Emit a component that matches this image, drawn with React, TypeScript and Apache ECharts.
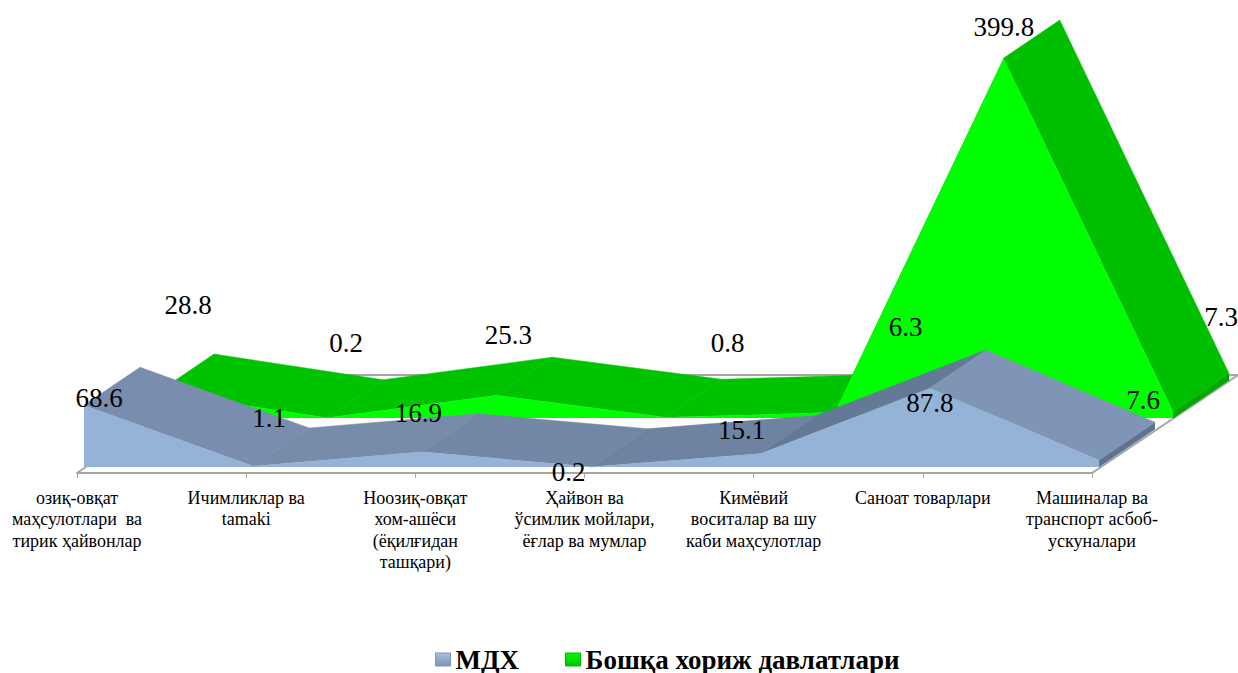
import React, { useEffect, useRef } from "react";
import * as echarts from "echarts";

const categories = [
  "озиқ-овқат\nмаҳсулотлари  ва\nтирик ҳайвонлар",
  "Ичимликлар ва\ntamaki",
  "Ноозиқ-овқат\nхом-ашёси\n(ёқилғидан\nташқари)",
  "Ҳайвон ва\nўсимлик мойлари,\nёғлар ва мумлар",
  "Кимёвий\nвоситалар ва шу\nкаби маҳсулотлар",
  "Саноат товарлари",
  "Машиналар ва\nтранспорт асбоб-\nускуналари",
];
const mdhValues = [68.6, 1.1, 16.9, 0.2, 15.1, 87.8, 7.6];
const otherValues = [28.8, 0.2, 25.3, 0.8, 6.3, 399.8, 7.3];
const mdhName = "МДХ";
const otherName = "Бошқа хориж давлатлари";

const FONT = "Liberation Serif";
const depth = [56, -38];
const capHeight = 7;
const mdhShift = [7, -6];
const otherShift = [81, -55];
const floorDepth = [146, -98];
const mdhStrips = ["#798eae", "#778ca9", "#7388a6", "#6e83a1", "#637996", "#7f95b6"];
const otherStrips = ["#00c300", "#00c300", "#00c300", "#00c300", "#00c300", "#00bf00"];
const mdhLabelNudge = [[15, -7], [16, -48], [-4, -39], [-23, 5], [-19, -23], [0, 15], [44, -60]];
const otherLabelNudge = [[30, -87], [19, -75], [12, -60], [62, -74], [71, -85], [0, -31], [48, -94]];

function ribbon(values: number[], shift: number[], front: string, strips: string[], capColor: string) {
  return (params: any, api: any) => {
    const i = params.dataIndex;
    const pt = (k: number, v: number, dx = 0, dy = 0) => {
      const c = api.coord([k, v]);
      return [c[0] + shift[0] + dx, c[1] + shift[1] + dy];
    };
    const children: any[] = [];
    if (i < values.length - 1) {
      const a = pt(i, api.value(1));
      const b = pt(i + 1, values[i + 1]);
      children.push({
        type: "polygon",
        z2: 1 + i,
        shape: {
          points: [a, b, [b[0] + depth[0], b[1] + depth[1]], [a[0] + depth[0], a[1] + depth[1]]],
        },
        style: { fill: strips[i], stroke: strips[i], lineWidth: 0.5 },
      });
    } else {
      const a = pt(i, api.value(1));
      children.push({
        type: "polygon",
        z2: 1 + i,
        shape: {
          points: [
            a,
            [a[0] + depth[0], a[1] + depth[1]],
            [a[0] + depth[0], a[1] + depth[1] + capHeight],
            [a[0], a[1] + capHeight],
          ],
        },
        style: { fill: capColor },
      });
    }
    if (i === 0) {
      const top = values.map((v, k) => pt(k, v));
      children.push({
        type: "polygon",
        z2: 50,
        shape: { points: [...top, pt(values.length - 1, 0), pt(0, 0)] },
        style: { fill: front },
      });
    }
    return { type: "group", children };
  };
}

function labels(shift: number[], nudge: number[][]) {
  return (params: any, api: any) => {
    const i = params.dataIndex;
    const c = api.coord([i, api.value(1)]);
    return {
      type: "text",
      style: {
        x: c[0] + shift[0] + nudge[i][0],
        y: c[1] + shift[1] + nudge[i][1],
        text: String(api.value(1)),
        fill: "#000",
        font: `27px "${FONT}"`,
        align: "center",
        verticalAlign: "middle",
      },
    };
  };
}

const floorRender = (params: any, api: any) => {
  if (params.dataIndex !== 0) return null;
  const a = api.coord([0, 0]);
  const b = api.coord([categories.length - 1, 0]);
  const style = { stroke: "#a6a6a6", lineWidth: 2, fill: "none" };
  return {
    type: "group",
    children: [
      { type: "polyline", shape: { points: [a, [a[0] + floorDepth[0], a[1] + floorDepth[1]], [b[0] + floorDepth[0], b[1] + floorDepth[1]], b] }, style },
    ],
  };
};

const toData = (vals: number[]) => vals.map((v, i) => [i, v]);

export default function App() {
  const ref = useRef<HTMLDivElement>(null);
  useEffect(() => {
    document.body.style.margin = "0";
    const chart = echarts.init(ref.current!, undefined, { renderer: "svg" });
    chart.setOption({
      animation: false,
      backgroundColor: "#fff",
      grid: { left: 77, right: 146, top: 23, bottom: 200, containLabel: false },
      xAxis: {
        type: "category",
        boundaryGap: false,
        data: categories,
        axisLine: { show: true, lineStyle: { color: "#a6a6a6", width: 2 } },
        axisTick: { show: true, alignWithLabel: true, length: 5, lineStyle: { color: "#a6a6a6", width: 1 } },
        axisLabel: {
          interval: 0,
          margin: 14,
          color: "#000",
          fontFamily: FONT,
          fontSize: 18,
          lineHeight: 21.5,
          align: "center",
          verticalAlign: "top",
          hideOverlap: false,
        },
        splitLine: { show: false },
      },
      yAxis: { type: "value", min: 0, max: 500, show: false, splitLine: { show: false } },
      legend: {
        left: 430,
        top: 641,
        itemWidth: 15,
        itemHeight: 13,
        itemGap: 46,
        icon: "rect",
        selectedMode: false,
        textStyle: { fontFamily: FONT, fontSize: 27, fontWeight: "bold", color: "#000" },
        data: [
          {
            name: mdhName,
            itemStyle: {
              color: new echarts.graphic.LinearGradient(0, 0, 0, 1, [
                { offset: 0, color: "#a8c0de" },
                { offset: 1, color: "#7d92b3" },
              ]),
              borderColor: "#7d92b3",
              borderWidth: 1,
            },
          },
          {
            name: otherName,
            itemStyle: {
              color: new echarts.graphic.LinearGradient(0, 0, 0, 1, [
                { offset: 0, color: "#00ff00" },
                { offset: 1, color: "#00c000" },
              ]),
              borderColor: "#00b400",
              borderWidth: 1,
            },
          },
        ],
      },
      tooltip: { show: false },
      series: [
        { type: "custom", name: "floor", z: 1, silent: true, renderItem: floorRender, data: toData(otherValues), encode: { x: 0, y: 1 } },
        { type: "custom", name: otherName, z: 2, silent: true, renderItem: ribbon(otherValues, otherShift, "#00ff00", otherStrips, "#00a800"), data: toData(otherValues), encode: { x: 0, y: 1 }, itemStyle: { color: "#00ff00" } },
        { type: "custom", name: mdhName, z: 3, silent: true, renderItem: ribbon(mdhValues, mdhShift, "#95b3d7", mdhStrips, "#5f7391"), data: toData(mdhValues), encode: { x: 0, y: 1 }, itemStyle: { color: "#95b3d7" } },
        { type: "custom", name: "otherLabels", z: 4, silent: true, renderItem: labels(otherShift, otherLabelNudge), data: toData(otherValues), encode: { x: 0, y: 1 } },
        { type: "custom", name: "mdhLabels", z: 4, silent: true, renderItem: labels(mdhShift, mdhLabelNudge), data: toData(mdhValues), encode: { x: 0, y: 1 } },
      ],
    });
    return () => chart.dispose();
  }, []);
  return <div ref={ref} style={{ position: "absolute", left: 0, top: 0, width: 1238, height: 673 }} />;
}
